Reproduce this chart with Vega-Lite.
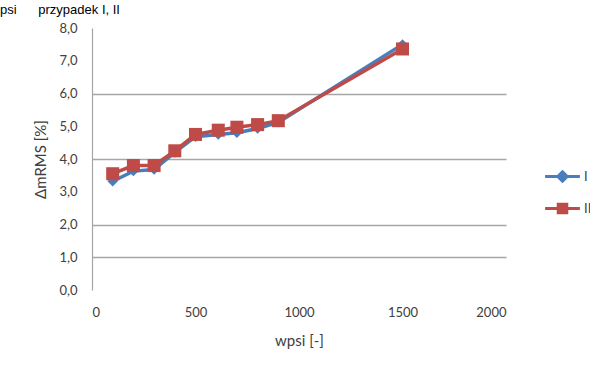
{
  "$schema": "https://vega.github.io/schema/vega-lite/v6.json",
  "width": 414,
  "height": 262,
  "autosize": {"type": "none"},
  "padding": {"left": 92, "top": 28, "right": 84, "bottom": 78},
  "background": "white",
  "title": {
    "text": "psi\u00a0\u00a0\u00a0\u00a0\u00a0\u00a0przypadek I, II",
    "anchor": "start",
    "frame": "group",
    "orient": "top",
    "dx": -92,
    "offset": -5,
    "baseline": "alphabetic",
    "font": "Liberation Sans",
    "fontSize": 13,
    "fontWeight": "normal",
    "color": "black"
  },
  "config": {
    "view": {"stroke": null},
    "font": "Lato",
    "legend": {
      "orient": "none",
      "title": null,
      "symbolSize": 1000,
      "symbolStrokeWidth": 3,
      "labelFontSize": 13,
      "labelColor": "#404040",
      "labelOffset": 4
    }
  },
  "data": {
    "values": [
      {"series": "I", "w": 100, "dm": 3.32},
      {"series": "I", "w": 200, "dm": 3.63},
      {"series": "I", "w": 300, "dm": 3.68},
      {"series": "I", "w": 400, "dm": 4.2},
      {"series": "I", "w": 500, "dm": 4.68},
      {"series": "I", "w": 610, "dm": 4.75},
      {"series": "I", "w": 700, "dm": 4.8},
      {"series": "I", "w": 800, "dm": 4.93},
      {"series": "I", "w": 900, "dm": 5.12},
      {"series": "I", "w": 1500, "dm": 7.5},
      {"series": "II", "w": 100, "dm": 3.55},
      {"series": "II", "w": 200, "dm": 3.8},
      {"series": "II", "w": 300, "dm": 3.8},
      {"series": "II", "w": 400, "dm": 4.25},
      {"series": "II", "w": 500, "dm": 4.75},
      {"series": "II", "w": 610, "dm": 4.88},
      {"series": "II", "w": 700, "dm": 4.97},
      {"series": "II", "w": 800, "dm": 5.05},
      {"series": "II", "w": 900, "dm": 5.17},
      {"series": "II", "w": 1500, "dm": 7.36}
    ]
  },
  "encoding": {
    "x": {
      "field": "w",
      "type": "quantitative",
      "scale": {"domain": [0, 2000], "nice": false},
      "axis": {
        "values": [0, 500, 1000, 1500, 2000],
        "labelExpr": "format(datum.value, 'd')",
        "grid": false,
        "domain": false,
        "ticks": false,
        "labelPadding": 16,
        "labelFontSize": 13,
        "labelColor": "#404040",
        "title": "wpsi [-]",
        "titleFontSize": 15,
        "titleFontWeight": "normal",
        "titleColor": "#404040",
        "titlePadding": 14
      }
    },
    "y": {
      "field": "dm",
      "type": "quantitative",
      "scale": {"domain": [0, 8], "nice": false},
      "axis": {
        "values": [0, 1, 2, 3, 4, 5, 6, 7, 8],
        "labelExpr": "replace(format(datum.value, '.1f'), '.', ',')",
        "grid": true,
        "gridColor": "#A6A6A6",
        "gridWidth": 1.5,
        "gridOpacity": {"condition": {"test": "datum.value == 1 || datum.value == 2 || datum.value == 4 || datum.value == 6", "value": 1}, "value": 0},
        "domain": true,
        "domainColor": "#A6A6A6",
        "domainWidth": 1.2,
        "ticks": false,
        "labelPadding": 15,
        "labelFontSize": 13,
        "labelColor": "#404040",
        "title": "ΔmRMS [%]",
        "titleFontSize": 15,
        "titleFontWeight": "normal",
        "titleColor": "#404040",
        "titlePadding": 10
      }
    }
  },
  "layer": [
    {
      "transform": [{"filter": "datum.series === 'I'"}],
      "encoding": {
        "color": {
          "field": "series",
          "type": "nominal",
          "scale": {"domain": ["I"], "range": ["#4A7EBB"]},
          "legend": {
            "legendX": 453,
            "legendY": 131,
            "symbolType": "M-1.1,0H1.1M0,-0.3L0.3,0L0,0.3L-0.3,0ZM-0.15,-0.1H0.15M-0.15,0.1H0.15",
            "symbolStrokeColor": "#4A7EBB",
            "symbolFillColor": "#4A7EBB"
          }
        }
      },
      "layer": [
        {"mark": {"type": "line", "strokeWidth": 3.5}},
        {"mark": {"type": "point", "filled": true, "opacity": 1, "size": 170, "shape": "M0,-0.8L0.8,0L0,0.8L-0.8,0Z"}}
      ]
    },
    {
      "transform": [{"filter": "datum.series === 'II'"}],
      "encoding": {
        "color": {
          "field": "series",
          "type": "nominal",
          "scale": {"domain": ["II"], "range": ["#BE4B48"]},
          "legend": {
            "legendX": 453,
            "legendY": 163,
            "symbolType": "M-1.1,0H1.1M-0.27,-0.27H0.27V0.27H-0.27ZM-0.27,-0.13H0.27M-0.27,0.13H0.27",
            "symbolStrokeColor": "#BE4B48",
            "symbolFillColor": "#BE4B48"
          }
        }
      },
      "layer": [
        {"mark": {"type": "line", "strokeWidth": 3.5}},
        {"mark": {"type": "point", "filled": true, "opacity": 1, "size": 170, "shape": "M-1,-1H1V1H-1Z"}}
      ]
    }
  ],
  "resolve": {"scale": {"color": "independent"}}
}
